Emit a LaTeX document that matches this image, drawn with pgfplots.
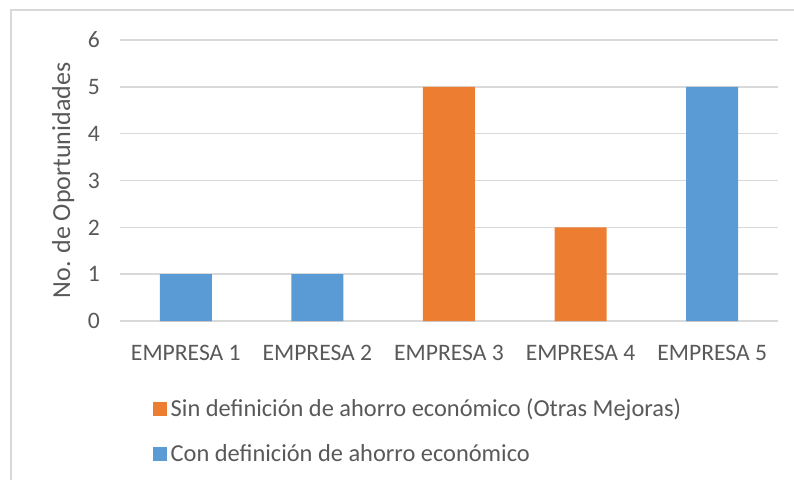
\documentclass[border=0pt]{standalone}
\usepackage{pgfplots}
\pgfplotsset{compat=1.18}
\usepackage{fontspec}
\setmainfont{Carlito}

\definecolor{sinC}{HTML}{ED7D31}
\definecolor{conC}{HTML}{5B9BD5}
\definecolor{txtC}{HTML}{595959}
\definecolor{gridC}{HTML}{D9D9D9}

% 1 px of the reference = 0.5 pt
\begin{document}
\begin{tikzpicture}
\useasboundingbox (0pt,0pt) rectangle (397pt,-239.5pt);
% chart frame (only left and top sides are visible)
\draw[gridC, line width=0.7pt] (5.5pt,-240pt) -- (5.5pt,-5pt) -- (398pt,-5pt);

\begin{axis}[
    at={(92.9pt,-160.5pt)}, anchor=origin,
    scale only axis,
    width=329pt, height=140.5pt,
    ybar, bar width=26pt,
    xmin=-0.5, xmax=4.5,
    ymin=0, ymax=6,
    xtick=data,
    xticklabels={EMPRESA 1,EMPRESA 2,EMPRESA 3,EMPRESA 4,EMPRESA 5},
    ytick={0,1,2,3,4,5,6},
    axis line style={draw=none},
    axis x line*=bottom,
    x axis line style={draw=gridC, line width=0.8pt},
    major tick length=0pt,
    ymajorgrids, grid style={gridC, line width=0.8pt},
    tick label style={font=\fontsize{11.8}{13}\selectfont, text=txtC},
    /pgf/number format/assume math mode=true,
    yticklabel style={xshift=-6.5pt},
    xticklabel style={yshift=-8.5pt},
    ylabel={No. de Oportunidades},
    ylabel style={font=\fontsize{13}{15}\selectfont, text=txtC},
    legend style={at={(rel axis cs:0.040,-0.245)}, anchor=north west, draw=none,
        font=\fontsize{12.2}{14}\selectfont, text=txtC,
        row sep=8.5pt, cells={anchor=west}},
    legend cell align=left,
    legend image code/.code={\fill[#1] (0pt,-3.5pt) rectangle (7pt,3.5pt);},
]
\addplot[fill=sinC, draw=none, bar shift=0pt] coordinates {(0,0) (1,0) (2,5) (3,2) (4,0)};
\addplot[fill=conC, draw=none, bar shift=0pt] coordinates {(0,1) (1,1) (2,0) (3,0) (4,5)};
\legend{Sin definición de ahorro económico (Otras Mejoras), Con definición de ahorro económico}
\end{axis}
\end{tikzpicture}
\end{document}
